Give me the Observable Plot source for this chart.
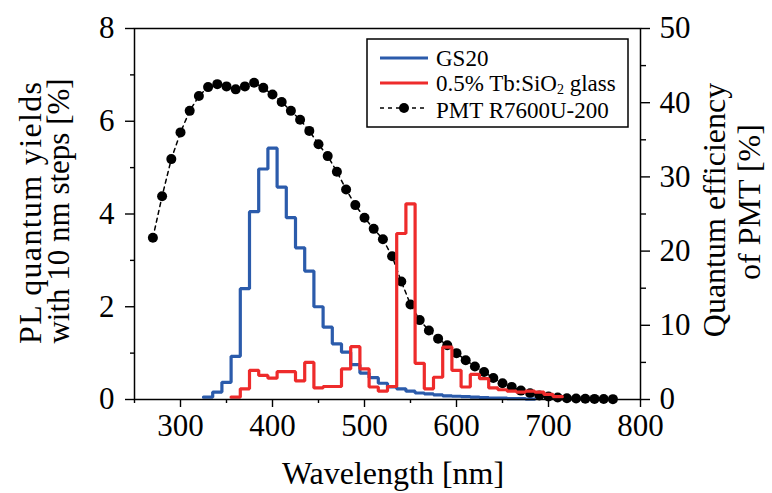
<!DOCTYPE html>
<html><head><meta charset="utf-8">
<script src="https://cdn.jsdelivr.net/npm/d3@7"></script>
<script src="https://cdn.jsdelivr.net/npm/@observablehq/plot@0.6"></script>
<style>
html,body{margin:0;padding:0;background:#fff;}
#chart svg{display:block;}
</style></head><body><div id="chart"></div>
<script>
// ---- data ----
const gsWavelength = [330,340,350,360,370,380,390,400,410,420,430,440,450,460,470,480,490,500,510,520,530,540,550,560,570,580,590,600,610,620,630,640,650,660,670,680];
const gsYield = [0.05,0.16,0.37,0.93,2.39,4.05,4.97,5.42,4.58,3.92,3.27,2.77,2.0,1.56,1.2,1.02,0.75,0.57,0.47,0.35,0.27,0.23,0.18,0.14,0.12,0.10,0.08,0.07,0.06,0.05,0.04,0.03,0.03,0.02,0.02,0.01];
const tbWavelength = [360,370,380,390,400,410,420,430,440,450,460,470,480,490,500,510,520,530,540,550,560,570,580,590,600,610,620,630,640,650,660,670,680,690,700,710];
const tbYield = [0.05,0.23,0.63,0.52,0.46,0.60,0.60,0.40,0.80,0.25,0.28,0.28,0.66,1.14,0.66,0.27,0.18,0.28,3.58,4.22,0.78,0.23,0.48,1.13,0.63,0.27,0.54,0.45,0.25,0.21,0.18,0.16,0.18,0.16,0.11,0.06];
const pmtWavelength = [270,280,290,300,310,320,330,340,350,360,370,380,390,400,410,420,430,440,450,460,470,480,490,500,510,520,530,540,550,560,570,580,590,600,610,620,630,640,650,660,670,680,690,700,710,720,730,740,750,760,770];
const pmtQE = [21.8,27.4,32.4,36.0,38.9,40.9,42.1,42.5,42.2,41.8,42.2,42.7,42.0,41.1,40.1,38.9,37.7,36.2,34.4,32.8,30.7,28.3,26.2,24.5,23.0,21.6,19.3,15.9,12.8,10.7,9.3,8.2,7.3,6.25,5.3,4.45,3.7,2.9,2.2,1.7,1.2,0.85,0.55,0.4,0.27,0.18,0.13,0.10,0.08,0.06,0.05];
const xTicks = [300,400,500,600,700,800];
const xMinorTicks = [250,350,450,550,650,750];
const yTicks = [0,2,4,6,8];
const yMinorTicks = [1,3,5,7];
const qeTicks = [0,10,20,30,40,50];
const qeMinorTicks = [5,15,25,35,45];
const seriesNames = ["GS20","0.5% Tb:SiO","PMT R7600U-200"];
const seriesColors = ["#2b5bab","#ee2b2b","#000000"];

const k = 8 / 50; // right-axis % -> left-axis units
const binWidth = 10;

// 10 nm histogram bins -> step-after rows (left edge of each bin + closing edge)
function binRows(wl, val) {
  const rows = wl.map((w, i) => ({edge: w - binWidth / 2, value: val[i]}));
  rows.push({edge: wl[wl.length - 1] + binWidth / 2, value: val[val.length - 1]});
  return rows;
}
const gsRows = binRows(gsWavelength, gsYield);
const tbRows = binRows(tbWavelength, tbYield);
const pmtRows = pmtWavelength.map((w, i) => ({wl: w, qe: pmtQE[i]}));

const font = "'Liberation Serif','Times New Roman',Times,serif";
const fs = 31;   // tick labels
const tfs = 32;  // axis titles

const plot = Plot.plot({
  width: 772, height: 493,
  marginLeft: 134, marginRight: 132, marginTop: 28, marginBottom: 94,
  style: {fontFamily: font, background: "#fff", color: "#000", overflow: "visible"},
  x: {domain: [250, 800]},
  y: {domain: [0, 8]},
  marks: [
    Plot.axisX(xTicks, {tickSize: 8, tickPadding: 6, fontSize: fs, label: null, strokeWidth: 1.4}),
    Plot.axisX(xMinorTicks, {tickSize: 4, tickFormat: () => "", label: null, strokeWidth: 1.4}),
    Plot.axisY(yTicks, {anchor: "left", tickSize: 9, tickPadding: 11, fontSize: fs, label: null, strokeWidth: 1.4}),
    Plot.axisY(yMinorTicks, {anchor: "left", tickSize: 4, tickFormat: () => "", label: null, strokeWidth: 1.4}),
    Plot.axisY(qeTicks, {anchor: "right", y: d => d * k, text: d => String(d), tickSize: 9, tickPadding: 10, fontSize: fs, label: null, strokeWidth: 1.4}),
    Plot.axisY(qeMinorTicks, {anchor: "right", y: d => d * k, text: () => "", tickSize: 5, label: null, strokeWidth: 1.4}),
    Plot.line(pmtRows, {x: "wl", y: d => d.qe * k, stroke: seriesColors[2], strokeWidth: 1.5, strokeDasharray: "4,4"}),
    Plot.dot(pmtRows, {x: "wl", y: d => d.qe * k, r: 5, fill: seriesColors[2], stroke: "none"}),
    Plot.line(gsRows, {x: "edge", y: "value", curve: "step-after", stroke: seriesColors[0], strokeWidth: 3.2, strokeLinejoin: "miter"}),
    Plot.line(tbRows, {x: "edge", y: "value", curve: "step-after", stroke: seriesColors[1], strokeWidth: 3.2, strokeLinejoin: "miter"}),
    Plot.frame({stroke: "#000", strokeWidth: 1.5})
  ]
});
document.getElementById("chart").appendChild(plot);

// ---- titles and legend ----
const svg = d3.select(plot);
function rotTitle(t, x, cy, size, len) {
  const el = svg.append("text")
    .attr("transform", `translate(${x},${cy}) rotate(-90)`)
    .attr("text-anchor", "middle")
    .attr("font-family", font).attr("font-size", size).attr("fill", "#000")
    .text(t);
  if (len) el.attr("textLength", len).attr("lengthAdjust", "spacing");
}
rotTitle("PL quantum yields", 41, 213, tfs, 262);
rotTitle("with 10 nm steps [%]", 69, 211, 31);
rotTitle("Quantum efficiency", 725, 210, tfs);
rotTitle("of PMT [%]", 760, 202, tfs);
svg.append("text").attr("x", 393).attr("y", 484).attr("text-anchor", "middle")
  .attr("font-family", font).attr("font-size", tfs).attr("fill", "#000").text("Wavelength [nm]");

const lg = svg.append("g").attr("text-anchor", "start");
lg.append("rect").attr("x", 367).attr("y", 39).attr("width", 261).attr("height", 88)
  .attr("fill", "#fff").attr("stroke", "#000").attr("stroke-width", 1.5);
const lineY = [58, 83, 108];
const baseY = [65.5, 91, 118];
const lfs = 23;
const lx0 = 380, lx1 = 428, tx = 436;
// GS20
lg.append("line").attr("x1", lx0).attr("x2", lx1).attr("y1", lineY[0]).attr("y2", lineY[0]).attr("stroke", seriesColors[0]).attr("stroke-width", 3.2);
lg.append("text").attr("x", tx).attr("y", baseY[0]).attr("font-family", font).attr("font-size", lfs).attr("text-anchor", "start").text(seriesNames[0]);
// Tb
lg.append("line").attr("x1", lx0).attr("x2", lx1).attr("y1", lineY[1]).attr("y2", lineY[1]).attr("stroke", seriesColors[1]).attr("stroke-width", 3.2);
const t2 = lg.append("text").attr("x", tx).attr("y", baseY[1]).attr("font-family", font).attr("font-size", lfs).attr("text-anchor", "start");
t2.append("tspan").text(seriesNames[1]);
t2.append("tspan").attr("font-size", 14).attr("dy", 3).text("2");
t2.append("tspan").attr("dy", -3).text(" glass");
// PMT
lg.append("line").attr("x1", lx0).attr("x2", lx1).attr("y1", lineY[2]).attr("y2", lineY[2]).attr("stroke", "#000").attr("stroke-width", 1.5).attr("stroke-dasharray", "4,4");
lg.append("circle").attr("cx", (lx0 + lx1) / 2).attr("cy", lineY[2]).attr("r", 5).attr("fill", "#000");
lg.append("text").attr("x", tx).attr("y", baseY[2]).attr("font-family", font).attr("font-size", lfs).attr("text-anchor", "start").text(seriesNames[2]);
</script></body></html>
